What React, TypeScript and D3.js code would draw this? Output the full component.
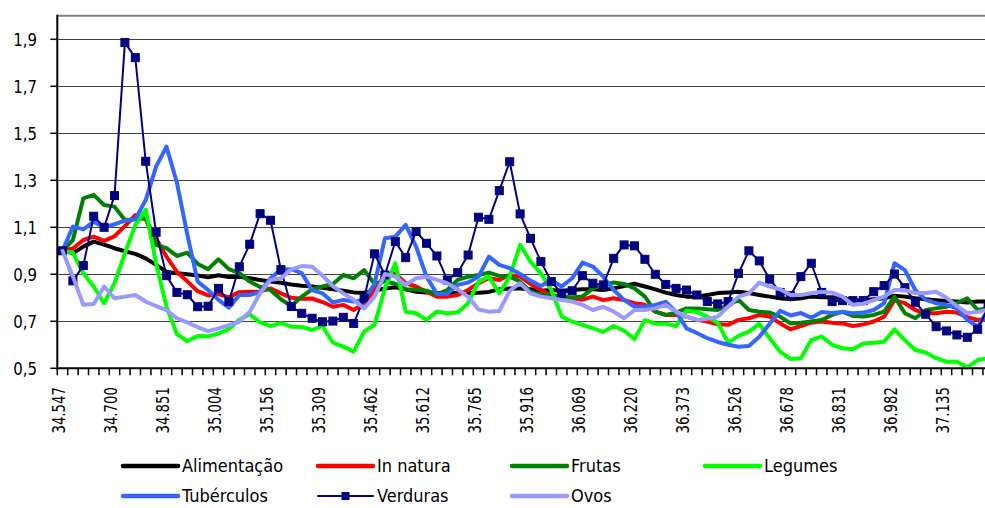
import React from "react";
import * as d3 from "d3";

const tickLabels = ["34.547","34.700","34.851","35.004","35.156","35.309","35.462","35.612","35.765","35.916","36.069","36.220","36.373","36.526","36.678","36.831","36.982","37.135"];
const yTicks = [0.5, 0.7, 0.9, 1.1, 1.3, 1.5, 1.7, 1.9];

const alimentacao = [1.00,0.99,1.018,1.039,1.026,1.011,0.998,0.987,0.968,0.94,0.911,0.904,0.90,0.895,0.887,0.896,0.888,0.89,0.883,0.876,0.869,0.864,0.857,0.851,0.848,0.843,0.836,0.83,0.823,0.822,0.83,0.84,0.845,0.836,0.826,0.823,0.82,0.82,0.82,0.82,0.822,0.825,0.836,0.84,0.84,0.836,0.83,0.833,0.83,0.833,0.836,0.836,0.833,0.84,0.85,0.86,0.848,0.836,0.822,0.812,0.805,0.805,0.812,0.82,0.823,0.826,0.82,0.812,0.805,0.798,0.794,0.798,0.805,0.802,0.802,0.798,0.79,0.79,0.794,0.798,0.809,0.805,0.798,0.794,0.79,0.786,0.784,0.78,0.784,0.784];
const inNatura = [1.00,1.01,1.046,1.06,1.042,1.062,1.105,1.152,1.135,1.052,0.975,0.91,0.87,0.828,0.81,0.816,0.802,0.824,0.826,0.826,0.84,0.819,0.80,0.796,0.797,0.782,0.762,0.77,0.748,0.777,0.833,0.897,0.904,0.862,0.848,0.826,0.805,0.805,0.812,0.833,0.862,0.883,0.876,0.897,0.89,0.859,0.833,0.812,0.802,0.798,0.792,0.805,0.79,0.798,0.79,0.777,0.77,0.741,0.727,0.727,0.72,0.706,0.699,0.687,0.685,0.706,0.713,0.727,0.72,0.691,0.666,0.68,0.694,0.699,0.694,0.691,0.68,0.687,0.699,0.72,0.79,0.777,0.748,0.734,0.734,0.741,0.737,0.717,0.706,0.713];
const frutas = [1.00,1.046,1.223,1.238,1.195,1.188,1.131,1.134,1.138,1.025,1.011,0.978,0.992,0.944,0.922,0.964,0.922,0.905,0.869,0.846,0.833,0.794,0.765,0.805,0.836,0.848,0.859,0.897,0.883,0.918,0.86,0.87,0.86,0.835,0.835,0.83,0.815,0.833,0.876,0.89,0.897,0.907,0.893,0.89,0.869,0.826,0.812,0.812,0.805,0.801,0.806,0.84,0.855,0.865,0.859,0.84,0.805,0.741,0.727,0.737,0.755,0.755,0.751,0.748,0.77,0.791,0.748,0.741,0.737,0.72,0.691,0.694,0.699,0.706,0.727,0.741,0.723,0.72,0.727,0.741,0.805,0.734,0.713,0.748,0.755,0.762,0.777,0.798,0.748,0.755];
const legumes = [1.00,0.992,0.904,0.848,0.777,0.862,0.989,1.11,1.174,0.947,0.762,0.646,0.616,0.637,0.636,0.648,0.667,0.707,0.73,0.695,0.68,0.692,0.677,0.676,0.663,0.68,0.609,0.592,0.571,0.656,0.684,0.84,0.947,0.741,0.734,0.706,0.741,0.734,0.737,0.777,0.869,0.89,0.819,0.89,1.025,0.954,0.904,0.833,0.72,0.699,0.685,0.67,0.655,0.68,0.66,0.625,0.705,0.69,0.69,0.68,0.745,0.74,0.72,0.694,0.609,0.638,0.656,0.689,0.628,0.571,0.54,0.543,0.62,0.635,0.6,0.585,0.581,0.606,0.609,0.613,0.666,0.62,0.578,0.567,0.543,0.528,0.528,0.504,0.535,0.543];
const tuberculos = [1.00,1.103,1.091,1.124,1.10,1.113,1.128,1.134,1.216,1.358,1.443,1.29,1.07,0.869,0.833,0.791,0.758,0.812,0.812,0.824,0.883,0.92,0.922,0.905,0.833,0.819,0.78,0.791,0.784,0.791,0.859,1.053,1.06,1.11,1.018,0.89,0.816,0.817,0.855,0.865,0.89,0.975,0.94,0.926,0.901,0.873,0.85,0.876,0.848,0.883,0.95,0.933,0.89,0.833,0.791,0.762,0.762,0.77,0.783,0.74,0.67,0.65,0.628,0.612,0.60,0.592,0.595,0.634,0.69,0.745,0.725,0.735,0.715,0.74,0.735,0.74,0.734,0.737,0.748,0.777,0.947,0.918,0.833,0.791,0.777,0.77,0.755,0.706,0.677,0.748];
const verduras = [1.00,0.872,0.937,1.147,1.10,1.235,1.886,1.822,1.381,1.079,0.894,0.823,0.813,0.762,0.764,0.84,0.784,0.932,1.028,1.158,1.13,0.92,0.763,0.734,0.713,0.698,0.701,0.717,0.691,0.798,0.987,0.897,1.039,0.971,1.082,1.032,0.978,0.876,0.907,0.982,1.143,1.134,1.256,1.379,1.157,1.053,0.954,0.869,0.819,0.83,0.894,0.862,0.855,0.968,1.025,1.021,0.964,0.90,0.857,0.84,0.833,0.812,0.784,0.774,0.784,0.904,1.00,0.957,0.879,0.823,0.809,0.89,0.947,0.823,0.784,0.788,0.788,0.788,0.826,0.852,0.901,0.843,0.781,0.73,0.677,0.659,0.642,0.632,0.666,0.76];
const ovos = [1.00,0.89,0.77,0.774,0.848,0.798,0.805,0.812,0.784,0.765,0.748,0.713,0.695,0.675,0.658,0.67,0.684,0.698,0.741,0.819,0.876,0.883,0.921,0.935,0.932,0.895,0.85,0.819,0.791,0.755,0.805,0.901,0.89,0.855,0.883,0.89,0.876,0.862,0.836,0.805,0.75,0.741,0.744,0.83,0.862,0.819,0.805,0.798,0.791,0.784,0.77,0.748,0.762,0.741,0.713,0.748,0.748,0.755,0.77,0.741,0.72,0.706,0.711,0.72,0.762,0.805,0.819,0.865,0.848,0.836,0.812,0.812,0.819,0.826,0.822,0.805,0.77,0.775,0.79,0.805,0.833,0.833,0.82,0.82,0.826,0.80,0.765,0.735,0.74,0.75];

const seriesNames = ["Alimentação", "In natura", "Frutas", "Legumes", "Tubérculos", "Verduras", "Ovos"];
const seriesValues = [alimentacao, inNatura, frutas, legumes, tuberculos, verduras, ovos];
const seriesColors = ["#000000", "#FF0000", "#008000", "#00FF00", "#3366FF", "#000080", "#9999FF"];

const FONT = "'DejaVu Sans Condensed', 'DejaVu Sans', sans-serif";

export default function App() {
  const W = 985, H = 508;
  const left = 57.3, top = 15.8, bottom = 368.3;
  const step = 10.4;
  const n = alimentacao.length;
  const x = d3.scaleLinear().domain([-0.5, n - 0.5]).range([left, left + step * n]);
  const y = d3.scaleLinear().domain([0.5, 2.0]).range([bottom, top]);
  const line = d3.line<number>().x((_, i) => x(i)).y((d) => y(d));

  const legendCols = [123, 318, 512, 705];
  const legendRows = [466, 496];

  return (
    <svg width={W} height={H} style={{ position: "absolute", left: 0, top: 0, background: "#fff" }}>
      <defs>
        <clipPath id="plot">
          <rect x={left} y={top - 2} width={W - left} height={bottom - top + 4} />
        </clipPath>
      </defs>
      <rect x={0} y={0} width={W} height={H} fill="#fff" />
      {yTicks.filter((t) => t > 0.5).map((t) => (
        <line key={t} x1={left} x2={W} y1={Math.round(y(t)) + 0.5} y2={Math.round(y(t)) + 0.5} stroke="#404040" strokeWidth={1} />
      ))}
      <line x1={left} x2={W} y1={top} y2={top} stroke="#808080" strokeWidth={2} />
      <g clipPath="url(#plot)">
        {seriesValues.map((vals, si) => (
          <path key={si} d={line(vals) || ""} fill="none" stroke={seriesColors[si]}
            strokeWidth={si === 5 ? 2 : 4} strokeLinejoin="round" strokeLinecap="round" />
        )).filter((_, si) => si !== 6)}
        {verduras.map((v, i) => (
          <rect key={i} x={x(i) - 4} y={y(v) - 4} width={8} height={8} fill="#000080" stroke="#000080" strokeWidth={1} />
        ))}
        <path d={line(ovos) || ""} fill="none" stroke={seriesColors[6]} strokeWidth={4} strokeLinejoin="round" strokeLinecap="round" />
      </g>
      <line x1={left} x2={left} y1={top - 1} y2={bottom + 1} stroke="#000" strokeWidth={2} />
      <line x1={left - 1} x2={W} y1={bottom} y2={bottom} stroke="#000" strokeWidth={2} />
      {yTicks.map((t) => (
        <g key={t}>
          <line x1={left - 7} x2={left} y1={y(t)} y2={y(t)} stroke="#000" strokeWidth={1.5} />
          <text transform={`translate(37,${y(t)}) scale(0.9,1)`} dy="0.36em" textAnchor="end" fontFamily={FONT} fontSize={18.5} fill="#000">
            {d3.format(".1f")(t).replace(".", ",")}
          </text>
        </g>
      ))}
      {d3.range(n + 1).map((k) => (
        <line key={k} x1={x(k - 0.5)} x2={x(k - 0.5)} y1={bottom} y2={bottom + 7} stroke="#000" strokeWidth={1.5} />
      ))}
      {tickLabels.map((lab, j) => (
        <text key={lab} transform={`translate(${x(j * 5) + 2.5},387) rotate(-90) scale(0.8,1)`} textAnchor="end"
          fontFamily={FONT} fontSize={18.5} fill="#000">{lab}</text>
      ))}
      {seriesNames.map((name, si) => {
        const col = si % 4;
        const row = Math.floor(si / 4);
        const lx = legendCols[col];
        const ly = legendRows[row];
        return (
          <g key={name}>
            <line x1={lx} x2={lx + 55} y1={ly} y2={ly} stroke={seriesColors[si]} strokeWidth={si === 5 ? 2 : 4.5} strokeLinecap="round" />
            {si === 5 && <rect x={lx + 23.5} y={ly - 4} width={8} height={8} fill="#000080" />}
            <text x={lx + 59} y={ly} dy="0.36em" fontFamily={FONT} fontSize={18} fill="#000">{name}</text>
          </g>
        );
      })}
    </svg>
  );
}
